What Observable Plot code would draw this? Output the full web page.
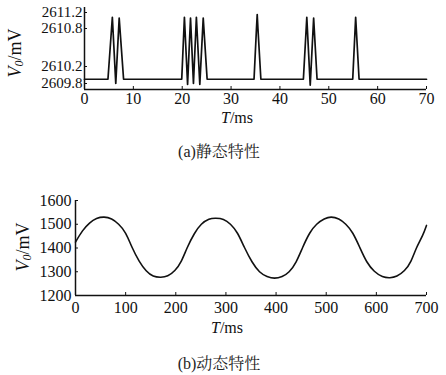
<!DOCTYPE html>
<html>
<head>
<meta charset="utf-8">
<script src="https://cdn.jsdelivr.net/npm/d3@7"></script>
<script src="https://cdn.jsdelivr.net/npm/@observablehq/plot@0.6"></script>
<style>
  html, body { margin: 0; padding: 0; background: #fff; }
  #wrap { position: relative; width: 446px; height: 375px; overflow: hidden; background: #fff; }
  .panel { position: absolute; left: 0; }
  .cap { position: absolute; left: 0; width: 438px; text-align: center;
         font-family: "Liberation Serif", "Times New Roman", Tinos, "DejaVu Serif", "Noto Serif CJK SC", "Noto Sans CJK SC", serif;
         font-size: 16px; color: #222; }
  svg text { font-family: "Liberation Serif", "Times New Roman", Tinos, "DejaVu Serif", serif !important; }
</style>
</head>
<body>
<div id="wrap">
  <div id="top" class="panel" style="top:0px"></div>
  <div class="cap" style="top:139px">(a)静态特性</div>
  <div id="bottom" class="panel" style="top:185px"></div>
  <div class="cap" style="top:351px">(b)动态特性</div>
</div>
<script>
// ---- (a) static characteristic ----
const staticT = [0, 4.8, 5.7, 6.4, 7.1, 8.0, 19.9, 20.45, 21.1, 21.7, 22.3, 22.9, 23.6, 24.3, 25.1,
                 34.7, 35.2, 35.35, 35.5, 36.1, 44.8, 45.5, 46.2, 46.9, 47.6, 54.9, 55.5, 56.2, 70];
const staticV = [2609.9, 2609.9, 2611.08, 2609.8, 2611.06, 2609.9, 2609.9, 2611.08, 2609.78, 2611.06, 2609.8, 2611.08, 2609.78, 2611.06, 2609.9,
                 2609.9, 2610.8, 2611.15, 2610.8, 2609.9, 2609.9, 2611.08, 2609.76, 2611.06, 2609.9, 2609.9, 2611.08, 2609.9, 2609.9];
const staticXTicks = [0, 10, 20, 30, 40, 50, 60, 70];
const staticYTicks = [2609.8, 2610.2, 2610.8, 2611.2];

// ---- (b) dynamic characteristic ----
const dynamicT = [0, 14, 28, 42, 57, 72, 86, 100, 113, 127, 141, 155, 170, 184, 198, 211, 223, 237, 251, 266, 280,
                  295, 309, 323, 337, 352, 367, 382, 397, 412, 426, 440, 453, 467, 481, 496, 510, 525, 539, 553,
                  567, 581, 596, 612, 627, 641, 656, 669, 680, 692, 700];
const dynamicV = [1425, 1472, 1505, 1524, 1530, 1522, 1500, 1462, 1402, 1345, 1304, 1282, 1277, 1283, 1305, 1345, 1402, 1460, 1500, 1521, 1525,
                  1520, 1500, 1462, 1402, 1342, 1300, 1280, 1273, 1280, 1300, 1342, 1402, 1462, 1500, 1522, 1530, 1522, 1500, 1462,
                  1402, 1342, 1302, 1280, 1275, 1282, 1305, 1345, 1400, 1452, 1495];
const dynamicXTicks = [0, 100, 200, 300, 400, 500, 600, 700];
const dynamicYTicks = [1200, 1300, 1400, 1500, 1600];

const ink = "#111";
const serif = "'Liberation Serif', 'Times New Roman', Tinos, 'DejaVu Serif', serif";
const baseStyle = {fontFamily: serif, fontSize: "16px", color: ink, background: "#fff"};

const topPlot = Plot.plot({
  width: 446, height: 130,
  marginLeft: 84, marginRight: 20, marginTop: 7, marginBottom: 41,
  style: baseStyle,
  x: {domain: [0, 70]},
  y: {type: "linear", domain: [2609.66, 2609.8, 2610.2, 2610.8, 2611.2, 2611.3], range: [89, 83, 66, 28, 12, 7]},
  marks: [
    Plot.ruleY([2609.66], {stroke: ink, strokeWidth: 1.5}),
    Plot.ruleX([0], {stroke: ink, strokeWidth: 1.5}),
    Plot.axisX({ticks: staticXTicks, tickSize: -3, tickPadding: 6, label: null, tickFormat: d => String(d), stroke: ink}),
    Plot.axisY({ticks: staticYTicks, tickSize: -3, tickPadding: 5, label: null, tickFormat: d => d.toFixed(1), stroke: ink, fontSize: 15}),
    Plot.line(staticT, {x: staticT, y: staticV, stroke: ink, strokeWidth: 1.7})
  ]
});

const bottomPlot = Plot.plot({
  width: 446, height: 155,
  marginLeft: 75, marginRight: 20, marginTop: 15, marginBottom: 45,
  style: baseStyle,
  x: {domain: [0, 700]},
  y: {domain: [1200, 1600]},
  marks: [
    Plot.ruleY([1200], {stroke: ink, strokeWidth: 1.5}),
    Plot.ruleX([0], {stroke: ink, strokeWidth: 1.5}),
    Plot.axisX({ticks: dynamicXTicks, tickSize: -3, tickPadding: 9, label: null, tickFormat: d => String(d), stroke: ink}),
    Plot.axisY({ticks: dynamicYTicks, tickSize: -3, tickPadding: 7, label: null, tickFormat: d => String(d), stroke: ink}),
    Plot.line(dynamicT, {x: dynamicT, y: dynamicV, curve: "natural", stroke: ink, strokeWidth: 1.6})
  ]
});

document.getElementById("top").appendChild(topPlot);
document.getElementById("bottom").appendChild(bottomPlot);

function addLabels(svgNode, xl, yl, ySize) {
  const svg = d3.select(svgNode);
  const g = svg.append("g").attr("font-family", serif).attr("font-size", 16).attr("fill", ink);
  const tx = g.append("text").attr("x", xl[0]).attr("y", xl[1]).attr("text-anchor", "middle").attr("dominant-baseline", "central");
  tx.append("tspan").attr("font-style", "italic").text("T");
  tx.append("tspan").text("/ms");
  const ty = g.append("text").attr("transform", `translate(${yl[0]},${yl[1]}) rotate(-90)`)
    .attr("font-size", ySize)
    .attr("text-anchor", "middle").attr("dominant-baseline", "central");
  ty.append("tspan").attr("font-style", "italic").text("V");
  ty.append("tspan").attr("font-style", "italic").attr("font-size", Math.round(ySize * 0.65)).attr("dy", 4).text("0");
  ty.append("tspan").attr("dy", -4).text("/mV");
}
addLabels(topPlot, [237, 117], [15, 53], 18);
addLabels(bottomPlot, [227, 142], [23, 62], 18);
</script>
</body>
</html>
